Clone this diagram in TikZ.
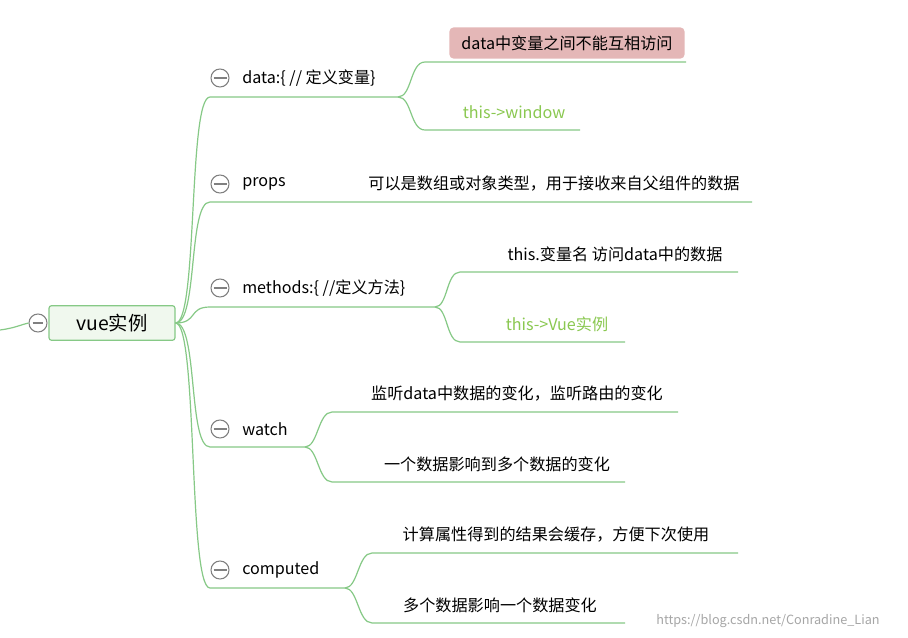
\documentclass[tikz,border=0pt]{standalone}
\usepackage{fontspec}
\setmainfont{Noto Sans CJK SC}
\begin{document}
\begin{tikzpicture}[x=0.75pt,y=-0.75pt,
  edge/.style={draw=edgegreen,line width=0.9pt},
  txt/.style={font=\fontsize{12.1}{14}\selectfont,text=black,inner sep=0pt},
  gtxt/.style={txt,text=textgreen},
  minus/.style={circle,draw=gray,line width=0.8pt,minimum size=13.5pt,inner sep=0pt,fill=white}]
\definecolor{edgegreen}{RGB}{134,201,134}
\definecolor{textgreen}{RGB}{138,200,80}
\definecolor{rootfill}{RGB}{240,248,238}
\definecolor{redfill}{RGB}{228,183,183}
\useasboundingbox (0,0) rectangle (908,638);
\fill[white] (0,0) rectangle (908,638);
% root
\node[draw=edgegreen,fill=rootfill,rounded corners=2pt,line width=0.9pt,minimum width=94.5pt,minimum height=26pt,font=\fontsize{14.5}{16}\selectfont] (root) at (112,323) {vue实例};
\node[minus] (rc) at (38,323) {};
\draw[edge] (0,330) .. controls (15,328) and (20,325) .. (rc.west);
\draw[gray,line width=0.8pt] ([xshift=-4pt]rc.center) -- ([xshift=4pt]rc.center);
\coordinate (r) at (root.east);
% branches: y label, underline y, end x
\foreach \n/\ly/\uy/\ex/\lab in {d/78/97/398/{data:\{ // 定义变量\}}, p/184/202/752/props, m/288/307/435/{methods:\{ //定义方法\}}, w/429/447/305/watch, c/570/588/345/computed}{
  \node[minus] (\n c) at (220,\ly) {};
  \draw[gray,line width=0.8pt] (213.5,\ly) -- (226.5,\ly);
  \node[txt,anchor=west] (\n l) at (242,\ly) {\lab};
  \coordinate (\n s) at (210,\uy);
  \coordinate (\n e) at (\ex,\uy);
  \draw[edge] (r) .. controls (198,323) and (188,\uy) .. (\n s) -- (\n e);
}
% children
\node[txt,fill=redfill,rounded corners=3pt,inner xsep=9pt,inner ysep=6pt,anchor=center] (d1) at (567,43) {data中变量之间不能互相访问};
\coordinate (d1s) at (425,62); \coordinate (d1e) at (686,62);
\draw[edge] (de) .. controls (412,97) and (410,62) .. (d1s) -- (d1e);
\node[gtxt] (d2) at (514,112) {this->window};
\coordinate (d2s) at (425,130); \coordinate (d2e) at (580,130);
\draw[edge] (de) .. controls (412,97) and (410,130) .. (d2s) -- (d2e);
\node[txt] (p1) at (554,184) {可以是数组或对象类型，用于接收来自父组件的数据};
\node[txt] (m1) at (615,254) {this.变量名 访问data中的数据};
\coordinate (m1s) at (460,272); \coordinate (m1e) at (738,272);
\draw[edge] (me) .. controls (448,307) and (446,272) .. (m1s) -- (m1e);
\node[gtxt] (m2) at (557,324) {this->Vue实例};
\coordinate (m2s) at (460,342); \coordinate (m2e) at (625,342);
\draw[edge] (me) .. controls (448,307) and (446,342) .. (m2s) -- (m2e);
\node[txt] (w1) at (517,394) {监听data中数据的变化，监听路由的变化};
\coordinate (w1s) at (332,412); \coordinate (w1e) at (678,412);
\draw[edge] (we) .. controls (318,447) and (318,412) .. (w1s) -- (w1e);
\node[txt] (w2) at (497,464) {一个数据影响到多个数据的变化};
\coordinate (w2s) at (332,482); \coordinate (w2e) at (625,482);
\draw[edge] (we) .. controls (318,447) and (318,482) .. (w2s) -- (w2e);
\node[txt] (c1) at (556,535) {计算属性得到的结果会缓存，方便下次使用};
\coordinate (c1s) at (372,553); \coordinate (c1e) at (738,553);
\draw[edge] (ce) .. controls (358,588) and (358,553) .. (c1s) -- (c1e);
\node[txt] (c2) at (500,605) {多个数据影响一个数据变化};
\coordinate (c2s) at (372,623); \coordinate (c2e) at (625,623);
\draw[edge] (ce) .. controls (358,588) and (358,623) .. (c2s) -- (c2e);
\node[font=\fontsize{9.5}{11}\selectfont,text=gray!70,inner sep=0pt] (wm) at (768,621) {https://blog.csdn.net/Conradine\_Lian};
\end{tikzpicture}
\end{document}
